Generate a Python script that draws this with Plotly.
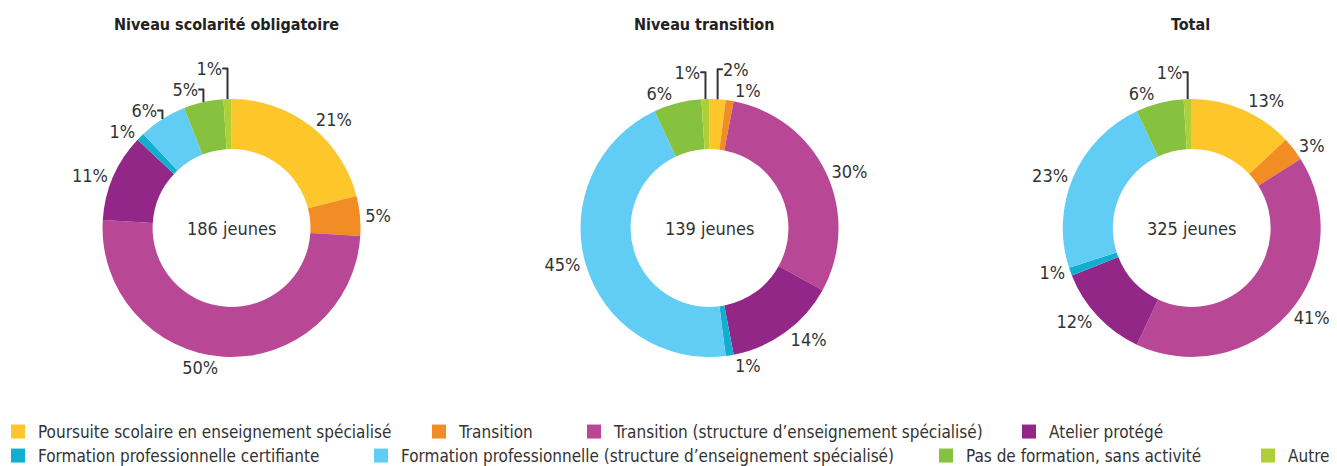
import plotly.graph_objects as go

categories = [
    'Poursuite scolaire en enseignement spécialisé',
    'Transition',
    'Transition (structure d’enseignement spécialisé)',
    'Atelier protégé',
    'Formation professionnelle certifiante',
    'Formation professionnelle (structure d’enseignement spécialisé)',
    'Pas de formation, sans activité',
    'Autre',
]
colors = ['#FDC62A', '#F28C24', '#B84896', '#922787',
          '#11AECF', '#62CDF4', '#86C240', '#AFCF36']

titles = ['Niveau scolarité obligatoire', 'Niveau transition', 'Total']
effectifs = [186, 139, 325]
pct_obligatoire = [21, 5, 50, 11, 1, 6, 5, 1]
pct_transition = [2, 1, 30, 14, 1, 45, 6, 1]
pct_total = [13, 3, 41, 12, 1, 23, 6, 1]

police = 'Liberation Sans Narrow, DejaVu Sans Condensed, Roboto, sans-serif'
gris = '#333333'
W, H = 1337, 466

# emplacement des anneaux (fractions de la figure)
domaines = [
    dict(x=[0.0707, 0.2637], y=[0.2511, 0.8047]),
    dict(x=[0.4282, 0.6212], y=[0.2511, 0.8047]),
    dict(x=[0.7889, 0.9818], y=[0.2511, 0.8047]),
]
cx = [223.5, 701.5, 1183.7]
cx_titre = [218, 697, 1182]

fig = go.Figure()
for i, vals in enumerate([pct_obligatoire, pct_transition, pct_total]):
    fig.add_trace(go.Pie(
        labels=categories,
        values=vals,
        hole=0.612,
        sort=False,
        direction='clockwise',
        rotation=0,
        marker=dict(colors=colors, line=dict(width=0)),
        texttemplate='%{value}%',
        textposition='outside',
        textfont=dict(size=18, color=gris, family=police),
        domain=domaines[i],
        showlegend=False,
    ))

# légende sur deux lignes (entrées fantômes, une légende par ligne)
largeurs = [386, 120, 400, 130, 328, 530, 287, 46]
for j in range(len(categories)):
    fig.add_trace(go.Scatter(
        x=[None], y=[None], mode='markers', name=categories[j],
        marker=dict(symbol='square', size=14, color=colors[j], line=dict(width=0)),
        legend='legend' if j < 4 else 'legend2',
        legendwidth=largeurs[j],
        hoverinfo='skip',
    ))

annotations = []
for i in range(3):
    annotations.append(dict(
        x=cx_titre[i] / W, y=1 - 17 / H, xref='paper', yref='paper',
        xanchor='center', yanchor='middle',
        text='<b>' + titles[i] + '</b>', showarrow=False,
        font=dict(size=16, color='#222222', family=police)))
    annotations.append(dict(
        x=cx[i] / W, y=1 - 220 / H, xref='paper', yref='paper',
        xanchor='center', yanchor='middle',
        text=str(effectifs[i]) + ' jeunes', showarrow=False,
        font=dict(size=18, color=gris, family=police)))

leg = dict(orientation='h', x=0, xanchor='left', yanchor='bottom',
           indentation=-10,
           font=dict(size=17, color=gris, family=police),
           bgcolor='rgba(0,0,0,0)', borderwidth=0)

fig.update_layout(
    width=W, height=H,
    margin=dict(l=0, r=0, t=0, b=0, autoexpand=False),
    paper_bgcolor='white',
    plot_bgcolor='white',
    font=dict(family=police, color=gris, size=17),
    annotations=annotations,
    xaxis=dict(visible=False),
    yaxis=dict(visible=False),
    legend=dict(leg, y=0.0515),
    legend2=dict(leg, y=0.0),
)

fig.write_html('out.html')
